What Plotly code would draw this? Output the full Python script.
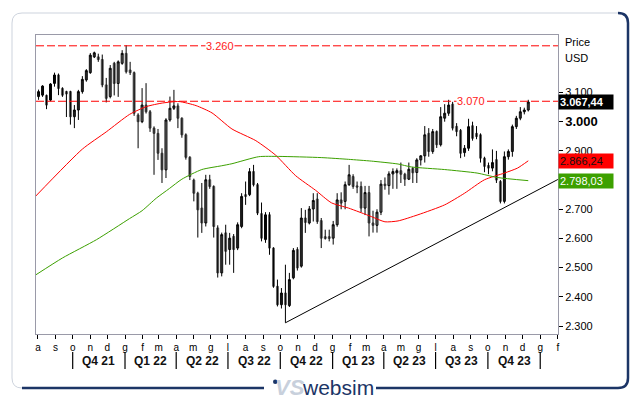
import plotly.graph_objects as go
import pandas as pd

# ---------------- data ----------------
week_start = "2021-08-02"
n_weeks = 124
dates = pd.date_range(week_start, periods=n_weeks, freq="7D")

open_ = [3.086, 3.091, 3.090, 3.074, 3.131, 3.160, 3.114, 3.103, 3.103, 3.017,
         3.040, 3.103, 3.143, 3.168, 3.222, 3.222, 3.213, 3.126, 3.086, 3.200,
         3.131, 3.200, 3.234, 3.177, 3.168, 3.023, 3.000, 3.057, 3.034, 2.978,
         2.960, 2.892, 2.835, 3.006, 3.046, 3.054, 3.012, 2.955, 2.878, 2.800,
         2.755, 2.704, 2.653, 2.801, 2.778, 2.636, 2.482, 2.619, 2.562, 2.607,
         2.567, 2.641, 2.750, 2.750, 2.829, 2.784, 2.685, 2.596, 2.681, 2.567,
         2.436, 2.373, 2.413, 2.370, 2.465, 2.562, 2.505, 2.670, 2.653, 2.701,
         2.735, 2.661, 2.606, 2.606, 2.601, 2.647, 2.732, 2.727, 2.784, 2.812,
         2.780, 2.778, 2.704, 2.757, 2.653, 2.645, 2.690, 2.786, 2.781, 2.821,
         2.825, 2.832, 2.820, 2.803, 2.840, 2.826, 2.869, 2.883, 2.960, 2.898,
         2.966, 2.921, 3.012, 3.029, 3.060, 2.984, 2.970, 2.894, 2.909, 2.986,
         2.960, 2.955, 2.875, 2.850, 2.841, 2.870, 2.795, 2.727, 2.880, 2.898,
         2.983, 3.012, 3.034, 3.040]
high = [3.110, 3.125, 3.093, 3.132, 3.168, 3.165, 3.118, 3.106, 3.106, 3.057,
        3.109, 3.156, 3.180, 3.235, 3.240, 3.233, 3.230, 3.150, 3.194, 3.205,
        3.210, 3.245, 3.262, 3.205, 3.172, 3.029, 3.115, 3.132, 3.040, 2.984,
        2.975, 2.909, 3.012, 3.086, 3.109, 3.063, 3.015, 2.960, 2.882, 2.805,
        2.760, 2.790, 2.818, 2.818, 2.782, 2.645, 2.620, 2.647, 2.619, 2.615,
        2.655, 2.755, 2.795, 2.841, 2.852, 2.790, 2.723, 2.690, 2.690, 2.570,
        2.459, 2.430, 2.510, 2.482, 2.567, 2.570, 2.704, 2.698, 2.711, 2.755,
        2.755, 2.670, 2.630, 2.630, 2.660, 2.755, 2.758, 2.795, 2.852, 2.820,
        2.795, 2.795, 2.780, 2.780, 2.695, 2.700, 2.800, 2.809, 2.830, 2.840,
        2.840, 2.860, 2.825, 2.860, 2.845, 2.875, 2.885, 2.985, 2.978, 2.975,
        2.970, 3.050, 3.060, 3.075, 3.068, 2.995, 2.975, 2.920, 3.010, 3.000,
        2.985, 2.960, 2.880, 2.860, 2.905, 2.900, 2.800, 2.898, 2.905, 2.990,
        3.020, 3.050, 3.048, 3.075]
low = [3.075, 3.085, 3.043, 3.070, 3.120, 3.091, 3.085, 3.016, 2.990, 2.978,
       3.006, 3.096, 3.137, 3.164, 3.218, 3.205, 3.118, 3.066, 3.080, 3.090,
       3.085, 3.195, 3.165, 3.160, 3.020, 2.909, 2.995, 3.028, 2.965, 2.818,
       2.869, 2.790, 2.807, 3.000, 3.040, 2.978, 2.945, 2.870, 2.800, 2.727,
       2.603, 2.619, 2.641, 2.770, 2.603, 2.466, 2.470, 2.510, 2.510, 2.482,
       2.560, 2.635, 2.715, 2.745, 2.778, 2.680, 2.590, 2.585, 2.544, 2.431,
       2.367, 2.360, 2.311, 2.365, 2.460, 2.490, 2.500, 2.619, 2.648, 2.658,
       2.650, 2.567, 2.596, 2.590, 2.579, 2.640, 2.700, 2.700, 2.780, 2.770,
       2.755, 2.690, 2.680, 2.607, 2.620, 2.620, 2.680, 2.767, 2.750, 2.770,
       2.770, 2.790, 2.780, 2.800, 2.790, 2.790, 2.850, 2.860, 2.880, 2.890,
       2.910, 2.915, 3.000, 3.020, 2.970, 2.950, 2.875, 2.880, 2.900, 2.935,
       2.940, 2.860, 2.827, 2.820, 2.830, 2.790, 2.720, 2.720, 2.870, 2.880,
       2.975, 3.005, 3.025, 3.035]
close = [3.103, 3.122, 3.057, 3.129, 3.160, 3.114, 3.091, 3.095, 3.017, 3.040,
         3.103, 3.145, 3.175, 3.228, 3.236, 3.213, 3.126, 3.080, 3.183, 3.131,
         3.205, 3.234, 3.171, 3.168, 3.029, 3.000, 3.057, 3.034, 2.978, 2.960,
         2.892, 2.835, 3.006, 3.046, 3.054, 3.012, 2.955, 2.878, 2.812, 2.755,
         2.698, 2.653, 2.801, 2.778, 2.641, 2.482, 2.613, 2.556, 2.601, 2.562,
         2.647, 2.744, 2.744, 2.829, 2.784, 2.687, 2.601, 2.681, 2.567, 2.436,
         2.373, 2.413, 2.373, 2.459, 2.559, 2.499, 2.670, 2.655, 2.701, 2.730,
         2.658, 2.601, 2.600, 2.600, 2.647, 2.732, 2.721, 2.784, 2.818, 2.778,
         2.776, 2.704, 2.757, 2.653, 2.645, 2.690, 2.786, 2.781, 2.821, 2.829,
         2.832, 2.820, 2.803, 2.837, 2.825, 2.869, 2.883, 2.955, 2.898, 2.966,
         2.921, 3.017, 3.029, 3.057, 2.978, 2.966, 2.892, 2.909, 2.983, 2.943,
         2.949, 2.875, 2.847, 2.841, 2.860, 2.800, 2.727, 2.880, 2.898, 2.983,
         3.012, 3.034, 3.040, 3.06744]

# moving averages
red_ma_dates = ["2021-07-28", "2021-10-18", "2021-11-29", "2022-01-09", "2022-02-08",
                "2022-03-08", "2022-04-06", "2022-05-06", "2022-06-03", "2022-07-08",
                "2022-08-19", "2022-09-23", "2022-10-28", "2022-12-02", "2022-12-30",
                "2023-01-29", "2023-03-10", "2023-04-03", "2023-04-26", "2023-05-31",
                "2023-07-17", "2023-08-21", "2023-09-25", "2023-10-30", "2023-11-22",
                "2023-12-11"]
red_ma_values = [2.745, 2.906, 2.965, 3.025, 3.052, 3.064, 3.069, 3.055, 3.030, 2.975,
                 2.935, 2.885, 2.815, 2.765, 2.722, 2.704, 2.675, 2.657, 2.660, 2.681,
                 2.715, 2.755, 2.801, 2.824, 2.841, 2.866]
green_ma_dates = ["2021-07-28", "2021-09-13", "2021-11-12", "2022-01-09", "2022-01-31",
                  "2022-02-25", "2022-03-20", "2022-04-11", "2022-05-16", "2022-06-20",
                  "2022-07-08", "2022-08-24", "2022-09-28", "2022-12-12", "2023-01-29",
                  "2023-03-10", "2023-04-26", "2023-05-19", "2023-07-17", "2023-09-12",
                  "2023-10-17", "2023-12-11"]
green_ma_values = [2.475, 2.533, 2.596, 2.668, 2.695, 2.738, 2.771, 2.803, 2.836, 2.849,
                   2.856, 2.880, 2.881, 2.877, 2.871, 2.865, 2.855, 2.845, 2.836, 2.824,
                   2.809, 2.798]

trend_dates = ["2022-10-10", "2024-02-01"]
trend_values = [2.311, 2.802]

levels = [3.260, 3.070]
level_labels = ["3.260", "3.070"]
level_label_dates = ["2022-06-17", "2023-09-02"]

tag_values = [3.06744, 2.86624, 2.79803]
tag_texts = ["3.067,44", "2.866,24", "2.798,03"]
tag_bg = ["#000000", "#ff0000", "#3ca000"]
tag_fg = ["#ffffff", "#111111", "#ffffff"]

y_ticks = [2.3, 2.4, 2.5, 2.6, 2.7, 2.8, 2.9, 3.0, 3.1]
y_tick_text = ["2.300", "2.400", "2.500", "2.600", "2.700", "2.800", "2.900",
               "<b><span style='font-size:13px'>3.000</span></b>", "3.100"]

month_ticks = pd.date_range("2021-08-01", "2024-02-01", freq="MS")
month_letters = ["a", "s", "o", "n", "d", "g", "f", "m", "a", "m", "g", "l",
                 "a", "s", "o", "n", "d", "g", "f", "m", "a", "m", "g", "l",
                 "a", "s", "o", "n", "d", "g", "f"]

quarter_labels = ["Q4 21", "Q1 22", "Q2 22", "Q3 22", "Q4 22", "Q1 23", "Q2 23", "Q3 23", "Q4 23"]
quarter_starts = ["2021-10-01", "2022-01-01", "2022-04-01", "2022-07-01", "2022-10-01",
                  "2023-01-01", "2023-04-01", "2023-07-01", "2023-10-01", "2024-01-01"]

# ---------------- figure ----------------
W, H = 642, 403
L, R, T, B = 36, 558, 35, 334
FONT = "Arial, Liberation Sans, sans-serif"
NAVY = "#1c3566"


def px(x):
    return (x - L) / (R - L)


def py(y):
    return (B - y) / (B - T)


def path(points):
    # points in picture pixels -> svg path in paper coords
    segs = []
    for k, (cmd, x, y) in enumerate(points):
        segs.append(f"{cmd} {px(x):.5f},{py(y):.5f}")
    return " ".join(segs)


fig = go.Figure()

# wicks
wx, wy = [], []
for d, lo, hi in zip(dates, low, high):
    wx += [d, d, None]
    wy += [lo, hi, None]
fig.add_trace(go.Scatter(x=wx, y=wy, mode="lines", line=dict(color="black", width=1),
                         hoverinfo="skip"))

body_hi = [max(o, c) for o, c in zip(open_, close)]
body_lo = [min(o, c) for o, c in zip(open_, close)]
fig.add_trace(go.Candlestick(
    x=dates, open=open_, high=body_hi, low=body_lo, close=close,
    increasing=dict(line=dict(color="black", width=1), fillcolor="white"),
    decreasing=dict(line=dict(color="#666666", width=1), fillcolor="#666666"),
    whiskerwidth=0, hoverinfo="skip"))

fig.add_trace(go.Scatter(x=red_ma_dates, y=red_ma_values, mode="lines",
                         line=dict(color="#ff0000", width=1, shape="spline", smoothing=0.6)))
fig.add_trace(go.Scatter(x=green_ma_dates, y=green_ma_values, mode="lines",
                         line=dict(color="#3ca000", width=1, shape="spline", smoothing=0.6)))
fig.add_trace(go.Scatter(x=trend_dates, y=trend_values, mode="lines",
                         line=dict(color="black", width=1)))

shapes = []
annotations = []

# outer frame: light top/left, navy right/bottom
shapes.append(dict(type="path", xref="paper", yref="paper",
                   path=path([("M", 22, 388), ("Q", 12, 388, ), ]) if False else
                   "M {a},{b} L {c},{b} Q {d},{b} {d},{e} L {d},{f} Q {d},{g} {a2},{g} L {h},{g}".format(
                       a=px(264), b=py(388), c=px(22), d=px(12), e=py(378),
                       f=py(23), g=py(13), a2=px(22), h=px(618)),
                   line=dict(color="#cdd3dd", width=1)))
shapes.append(dict(type="path", xref="paper", yref="paper",
                   path="M {a},{b} Q {c},{b} {c},{d} L {c},{e} Q {c},{f} {g},{f} L {h},{f}".format(
                       a=px(618), b=py(13), c=px(628), d=py(23), e=py(378), f=py(388),
                       g=px(618), h=px(376)),
                   line=dict(color=NAVY, width=2.5)))
shapes.append(dict(type="path", xref="paper", yref="paper",
                   path="M {a},{b} L {c},{b}".format(a=px(264), b=py(388), c=px(22)),
                   line=dict(color=NAVY, width=2.5)))

for lv in levels:
    shapes.append(dict(type="line", xref="paper", x0=0, x1=1, yref="y", y0=lv, y1=lv,
                       line=dict(color="#ff0000", width=1, dash="8px,3px")))
for lbl, d, lv in zip(level_labels, level_label_dates, levels):
    annotations.append(dict(x=d, y=lv, xref="x", yref="y", text=lbl, showarrow=False,
                            xanchor="center", yanchor="middle",
                            bgcolor="white", font=dict(color="#ff2020", size=11, family=FONT),
                            borderpad=0))

for v, t, bg, fg in zip(tag_values, tag_texts, tag_bg, tag_fg):
    annotations.append(dict(x=1.0, y=v, xref="paper", yref="y", xanchor="left", yanchor="middle",
                            text=t, showarrow=False, bgcolor=bg, width=52, height=12, align="left",
                            font=dict(color=fg, size=11, family=FONT,
                                      weight="bold" if bg == "#000000" else "normal"),
                            borderpad=1))

annotations.append(dict(x=px(563), y=py(42), xref="paper", yref="paper", xanchor="left",
                        yanchor="middle", text="Price", showarrow=False,
                        font=dict(size=11, family=FONT, color="black")))
annotations.append(dict(x=px(563), y=py(58), xref="paper", yref="paper", xanchor="left",
                        yanchor="middle", text="USD", showarrow=False,
                        font=dict(size=11, family=FONT, color="black")))

# quarter labels and separators
q_dt = pd.to_datetime(quarter_starts)
for i, q in enumerate(quarter_labels):
    mid = q_dt[i] + (q_dt[i + 1] - q_dt[i]) / 2
    annotations.append(dict(x=mid, y=py(361), xref="x", yref="paper", text="<b>" + q + "</b>",
                            xanchor="center", yanchor="middle", showarrow=False,
                            font=dict(size=12, family=FONT, color="#111111")))
for qs in quarter_starts:
    shapes.append(dict(type="line", xref="x", x0=qs, x1=qs, yref="paper", y0=py(352), y1=py(369),
                       line=dict(color="black", width=1.2)))

# footer logo
shapes.append(dict(type="circle", xref="paper", yref="paper", x0=px(273), x1=px(277.5),
                   y0=py(384), y1=py(379.5), fillcolor=NAVY, line=dict(width=0)))
annotations.append(dict(x=px(290), y=py(388), xref="paper", yref="paper", text="<b><i>VS</i></b>",
                        xanchor="center", yanchor="middle", showarrow=False,
                        font=dict(size=22, family=FONT, color="#c8d0dc")))
annotations.append(dict(x=px(338), y=py(388), xref="paper", yref="paper", text="websim",
                        xanchor="center", yanchor="middle", showarrow=False,
                        font=dict(size=21, family=FONT, color=NAVY)))

fig.update_layout(
    width=W, height=H, margin=dict(l=L, r=W - R, t=T, b=H - B),
    paper_bgcolor="white", plot_bgcolor="white", showlegend=False, hovermode=False,
    shapes=shapes, annotations=annotations,
    font=dict(family=FONT, color="black"),
    xaxis=dict(type="date", range=["2021-07-28 12:00", "2024-02-01 06:00"],
               rangeslider=dict(visible=False), showgrid=False, zeroline=False,
               tickvals=month_ticks, ticktext=month_letters, ticks="outside", ticklen=4,
               tickcolor="black", tickfont=dict(size=10, family=FONT, color="black"),
               showline=True, linecolor="#9a9aa8", mirror=True),
    yaxis=dict(side="right", range=[2.2726, 3.297], showgrid=False, zeroline=False,
               tickvals=y_ticks, ticktext=y_tick_text, ticks="outside", ticklen=4,
               tickcolor="black", tickfont=dict(size=11, family=FONT, color="black"),
               showline=True, linecolor="#9a9aa8", mirror=True),
)

fig.write_html("out.html", config={"displayModeBar": False})
